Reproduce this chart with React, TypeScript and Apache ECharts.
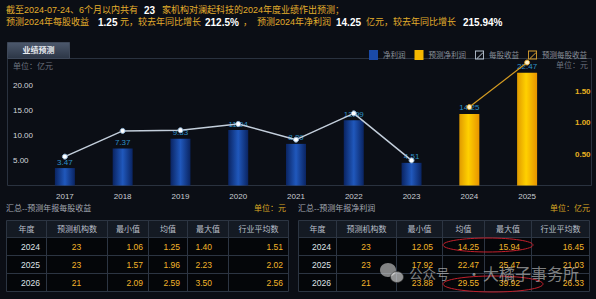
import React, { useEffect, useRef } from "react";
import * as echarts from "echarts";

// ---------- data ----------
const years = ["2017", "2018", "2019", "2020", "2021", "2022", "2023", "2024", "2025"];
const netProfit = [3.47, 7.37, 9.33, 11.04, 8.29, 12.99, 4.51, null, null];
const forecastNetProfit = [null, null, null, null, null, null, null, 14.25, 22.47];
const eps = [0.46, 0.87, 0.88, 0.98, 0.73, 1.15, 0.4, null, null];
const forecastEps = [null, null, null, null, null, null, null, 1.25, 1.96];

const tableHeaders = ["年度", "预测机构数", "最小值", "均值", "最大值", "行业平均数"];
const tableYears = ["2024", "2025", "2026"];
const epsCount = [23, 23, 21];
const epsMin = ["1.06", "1.57", "2.09"];
const epsMean = ["1.25", "1.96", "2.59"];
const epsMax = ["1.40", "2.23", "3.50"];
const epsIndustry = ["1.51", "2.02", "2.56"];
const npCount = [23, 23, 21];
const npMin = ["12.05", "17.92", "23.88"];
const npMean = ["14.25", "22.47", "29.55"];
const npMax = ["15.94", "25.47", "39.92"];
const npIndustry = ["16.45", "21.03", "26.33"];

const FONT = "'Liberation Sans', 'Noto Sans CJK SC', sans-serif";
const GOLD = "#e2ad2c";

function txt(x: number, y: number, text: string, o: any = {}) {
  const align = o.align || "left";
  const valign = o.valign || "middle";
  return {
    type: "text",
    x,
    y,
    z: o.z ?? 10,
    style: {
      text,
      fill: o.fill || "#ccc",
      fontSize: o.size || 8,
      fontFamily: o.family || FONT,
      fontWeight: o.weight || "normal",
      align,
      textAlign: align,
      verticalAlign: valign,
      textVerticalAlign: valign,
      opacity: o.opacity ?? 1,
    },
  };
}

function line(x1: number, y1: number, x2: number, y2: number, stroke: string, z = 5) {
  return { type: "line", z, shape: { x1, y1, x2, y2 }, style: { stroke, lineWidth: 1 } };
}

function buildTable(cols: number[], anchors: { x: number; align: string }[], rows: any[][]) {
  const ys = [220.5, 237.5, 255.5, 273.5, 291.5];
  const els: any[] = [];
  const x0 = cols[0] + 0.5;
  const x1 = cols[cols.length - 1] + 0.5;
  els.push({ type: "rect", z: 1, shape: { x: x0, y: ys[0], width: x1 - x0, height: ys[1] - ys[0] }, style: { fill: "#141a23" } });
  els.push({ type: "rect", z: 1, shape: { x: x0, y: ys[1], width: x1 - x0, height: ys[4] - ys[1] }, style: { fill: "#040609" } });
  ys.forEach((y) => els.push(line(x0, y, x1, y, "#2c3542")));
  cols.forEach((c) => els.push(line(c + 0.5, ys[0], c + 0.5, ys[4], "#2c3542")));
  tableHeaders.forEach((h, i) => {
    els.push(txt((cols[i] + cols[i + 1]) / 2 + 0.5, (ys[0] + ys[1]) / 2, h, { align: "center", fill: "#b9bfc8", size: 8 }));
  });
  rows.forEach((r, ri) => {
    const yc = (ys[ri + 1] + ys[ri + 2]) / 2;
    r.forEach((v, ci) => {
      els.push(
        txt(anchors[ci].x, yc, String(v), {
          align: anchors[ci].align,
          fill: ci === 0 ? "#dfe2e7" : "#f2b52a",
          size: 8.5,
        })
      );
    });
  });
  return els;
}

export default function App() {
  const ref = useRef<HTMLDivElement>(null);
  useEffect(() => {
    if (!ref.current) return;
    const chart = echarts.init(ref.current, null, { renderer: "svg" });

    const blueGrad = new echarts.graphic.LinearGradient(0, 0, 1, 0, [
      { offset: 0, color: "#0a2462" },
      { offset: 0.5, color: "#2058bc" },
      { offset: 1, color: "#0a2462" },
    ]);
    const goldGrad = new echarts.graphic.LinearGradient(0, 0, 1, 0, [
      { offset: 0, color: "#e09a00" },
      { offset: 0.45, color: "#ffd000" },
      { offset: 1, color: "#e89400" },
    ]);

    const epsIcon = "path://M0,0H10V10H0Z M1,1V9H9V1Z M2.2,8.4L8.4,2.2L9,2.8L2.8,9Z";

    const epsRows = tableYears.map((y, i) => [y, epsCount[i], epsMin[i], epsMean[i], epsMax[i], epsIndustry[i]]);
    const npRows = tableYears.map((y, i) => [y, npCount[i], npMin[i], npMean[i], npMax[i], npIndustry[i]]);

    const headline1 = [
      { x: 6, t: "截至2024-07-24、6个月以内共有", w: false, s: 9 },
      { x: 144, t: "23", w: true, s: 10 },
      { x: 162, t: "家机构对澜起科技的2024年度业绩作出预测；", w: false, s: 9 },
    ];
    const headline2 = [
      { x: 6, t: "预测2024年每股收益", w: false, s: 9 },
      { x: 98, t: "1.25", w: true, s: 10 },
      { x: 120, t: "元，较去年同比增长", w: false, s: 9 },
      { x: 205, t: "212.5%", w: true, s: 10 },
      { x: 243, t: "，", w: false, s: 9 },
      { x: 257, t: "预测2024年净利润", w: false, s: 9 },
      { x: 336, t: "14.25", w: true, s: 10 },
      { x: 366, t: "亿元，较去年同比增长", w: false, s: 9 },
      { x: 463, t: "215.94%", w: true, s: 10 },
    ];
    const headEls: any[] = [];
    headline1.forEach((s) =>
      headEls.push(txt(s.x, 10, s.t, { fill: s.w ? "#ffffff" : GOLD, size: s.s, weight: s.w ? "bold" : "normal" }))
    );
    headline2.forEach((s) =>
      headEls.push(txt(s.x, 22, s.t, { fill: s.w ? "#ffffff" : GOLD, size: s.s, weight: s.w ? "bold" : "normal" }))
    );

    const graphic: any[] = [
      ...headEls,
      {
        type: "rect",
        z: 2,
        shape: { x: 7.5, y: 42.5, width: 62, height: 16 },
        style: {
          fill: new echarts.graphic.LinearGradient(0, 0, 0, 1, [
            { offset: 0, color: "#4c586c" },
            { offset: 1, color: "#2c3646" },
          ]),
          stroke: "#3e4859",
          lineWidth: 1,
        },
      },
      txt(38.5, 50.5, "业绩预测", { align: "center", fill: "#e8ebf0", size: 8, weight: "bold" }),
      {
        type: "rect",
        z: 0,
        shape: { x: 7.5, y: 58.5, width: 584, height: 127 },
        style: { fill: "none", stroke: "#2a323f", lineWidth: 1 },
      },
      txt(13, 66, "单位：亿元", { fill: "#6c737e", size: 8 }),
      txt(588, 65, "单位：元", { fill: "#6c737e", size: 8, align: "right" }),
      txt(6, 208, "汇总--预测年报每股收益", { fill: "#a3a9b2", size: 8 }),
      txt(286, 208, "单位：元", { fill: "#d9a624", size: 8, align: "right" }),
      txt(298, 208, "汇总--预测年报净利润", { fill: "#a3a9b2", size: 8 }),
      txt(590, 208, "单位：亿元", { fill: "#d9a624", size: 8, align: "right" }),
      ...buildTable(
        [6, 46, 107, 148, 187, 228, 288],
        [
          { x: 40, align: "right" },
          { x: 76.5, align: "center" },
          { x: 143, align: "right" },
          { x: 180, align: "right" },
          { x: 212, align: "right" },
          { x: 283, align: "right" },
        ],
        epsRows
      ),
      ...buildTable(
        [298, 336, 396, 442, 484, 531, 589],
        [
          { x: 331, align: "right" },
          { x: 366, align: "center" },
          { x: 433, align: "right" },
          { x: 479, align: "right" },
          { x: 520, align: "right" },
          { x: 584, align: "right" },
        ],
        npRows
      ),
      {
        type: "ellipse",
        z: 20,
        shape: { cx: 488, cy: 245, rx: 45, ry: 7 },
        style: { fill: "none", stroke: "#c3202c", lineWidth: 1 },
      },
      {
        type: "ellipse",
        z: 20,
        shape: { cx: 493, cy: 284, rx: 50, ry: 8 },
        style: { fill: "none", stroke: "#c3202c", lineWidth: 1 },
      },
      // watermark
      { type: "ellipse", z: 25, shape: { cx: 388, cy: 270, rx: 8, ry: 7 }, style: { fill: "rgba(215,215,215,0.6)" } },
      { type: "ellipse", z: 26, shape: { cx: 397, cy: 277, rx: 6.5, ry: 5.5 }, style: { fill: "rgba(225,225,225,0.65)", stroke: "rgba(40,40,40,0.6)", lineWidth: 1 } },
      txt(409, 273, "公众号", { fill: "rgba(210,210,210,0.6)", size: 13.5, z: 25, family: "'Noto Sans CJK SC', sans-serif" }),
      txt(474, 273, "·", { fill: "rgba(210,210,210,0.6)", size: 14, z: 25, align: "center", family: "'Noto Sans CJK SC', sans-serif" }),
      txt(483, 273, "大橘子事务所", { fill: "rgba(210,210,210,0.6)", size: 16, z: 25, family: "'Noto Sans CJK SC', sans-serif" }),
    ];

    chart.setOption({
      animation: false,
      backgroundColor: "#0b0e15",
      textStyle: { fontFamily: FONT },
      legend: {
        top: 45,
        right: 4,
        itemWidth: 9,
        itemHeight: 10,
        itemGap: 9,
        textStyle: { color: "#8b929c", fontSize: 7.5, fontFamily: FONT },
        data: [
          { name: "净利润", icon: "rect", itemStyle: { color: "#1a4aa8", borderWidth: 0 } },
          { name: "预测净利润", icon: "rect", itemStyle: { color: "#f5b800", borderWidth: 0 } },
          { name: "每股收益", icon: epsIcon, itemStyle: { color: "#b8c4d2", borderWidth: 0 } },
          { name: "预测每股收益", icon: epsIcon, itemStyle: { color: "#d8a030", borderWidth: 0 } },
        ],
      },
      grid: { left: 36, right: 40, top: 60, bottom: 113.5 },
      xAxis: {
        type: "category",
        data: years,
        axisLine: { show: false },
        axisTick: { show: false },
        axisLabel: { color: "#c9cdd3", fontSize: 8, margin: 7 },
      },
      yAxis: [
        {
          type: "value",
          min: 0,
          max: 25,
          interval: 5,
          splitLine: { show: false },
          axisLine: { show: false },
          axisTick: { show: false },
          axisLabel: {
            color: "#d3d7dc",
            fontSize: 8,
            align: "left",
            margin: 23,
            formatter: (v: number) => (v === 0 || v === 25 ? "" : v.toFixed(2)),
          },
        },
        {
          type: "value",
          min: 0,
          max: 2,
          interval: 0.5,
          splitLine: { show: false },
          axisLine: { show: false },
          axisTick: { show: false },
          axisLabel: {
            color: "#e8b020",
            fontSize: 8,
            fontWeight: "bold",
            align: "left",
            margin: 19,
            formatter: (v: number) => (v === 0 || v === 2 ? "" : v.toFixed(2)),
          },
        },
      ],
      series: [
        {
          name: "净利润",
          type: "bar",
          data: netProfit,
          barWidth: 20,
          barGap: "-100%",
          itemStyle: { color: blueGrad },
          label: {
            show: true,
            position: "top",
            distance: 2,
            color: "#2d90c8",
            fontSize: 8,
            formatter: (p: any) => Number(p.value).toFixed(2),
          },
        },
        {
          name: "预测净利润",
          type: "bar",
          data: forecastNetProfit,
          barWidth: 20,
          barGap: "-100%",
          itemStyle: { color: goldGrad },
          label: {
            show: true,
            position: "top",
            distance: 2,
            color: "#2d90c8",
            fontSize: 8,
            formatter: (p: any) => Number(p.value).toFixed(2),
          },
        },
        {
          name: "每股收益",
          type: "line",
          yAxisIndex: 1,
          data: eps,
          symbol: "circle",
          symbolSize: 5,
          z: 5,
          lineStyle: { color: "#c3cedb", width: 1.5 },
          itemStyle: { color: "#ffffff", borderColor: "#8fb4d8", borderWidth: 1 },
        },
        {
          name: "预测每股收益",
          type: "line",
          yAxisIndex: 1,
          data: forecastEps,
          symbol: "circle",
          symbolSize: 5,
          z: 5,
          lineStyle: { color: "#d69c22", width: 1.2 },
          itemStyle: { color: "#fff4cc", borderColor: "#d69c22", borderWidth: 1 },
        },
      ],
      graphic,
    });
    return () => chart.dispose();
  }, []);

  return (
    <div
      ref={ref}
      style={{ position: "fixed", left: 0, top: 0, width: 596, height: 299, background: "#0b0e15" }}
    />
  );
}
